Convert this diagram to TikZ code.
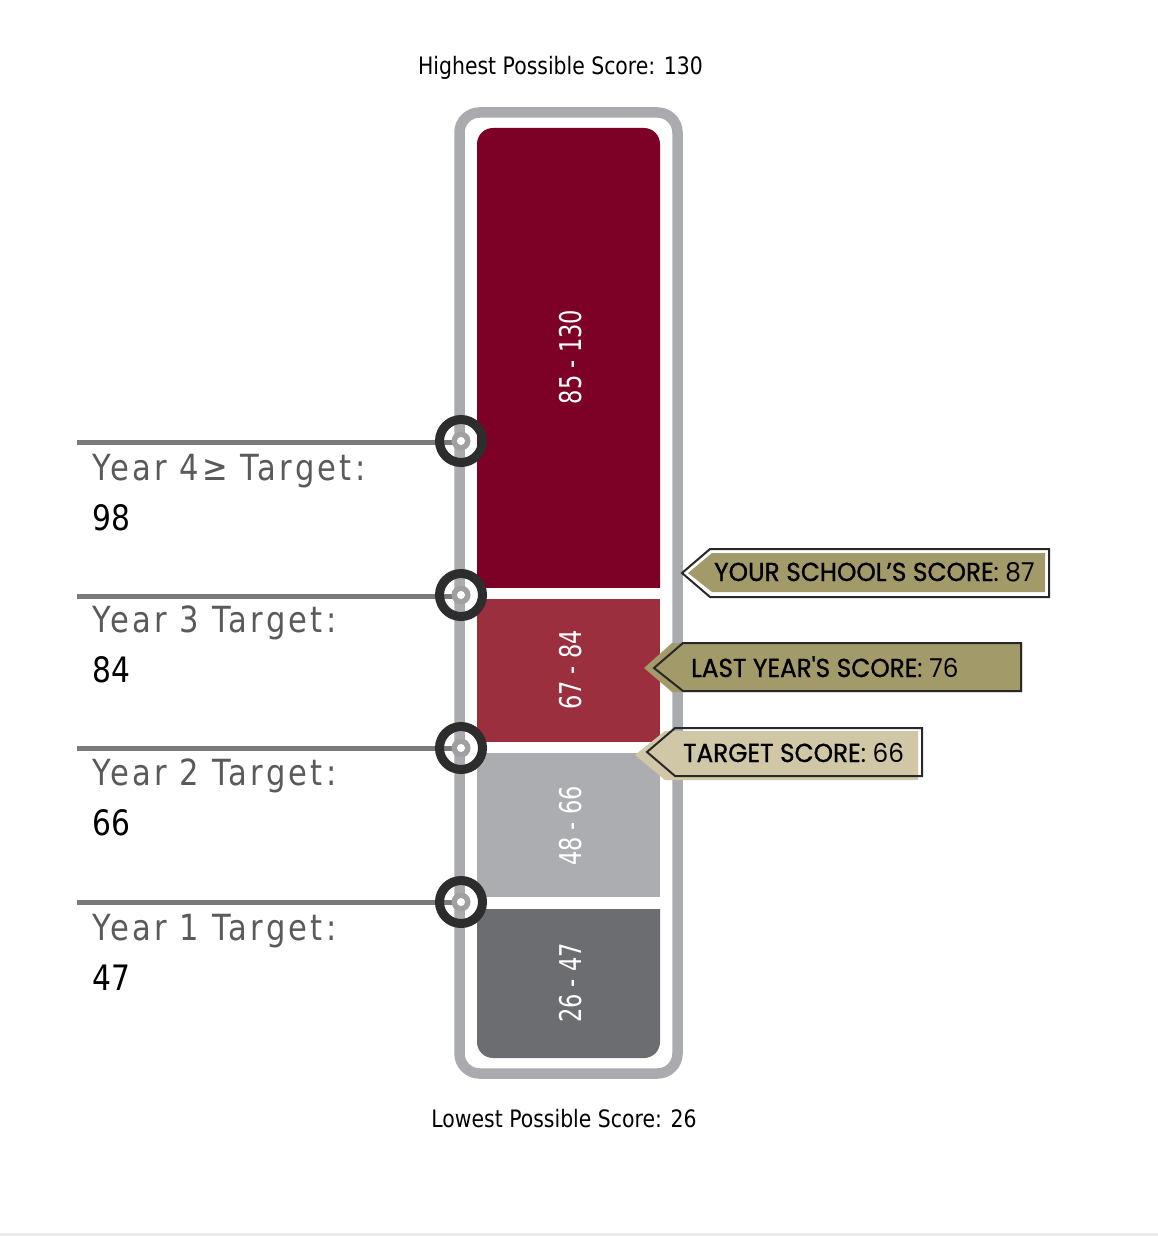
\documentclass[tikz,border=0pt]{standalone}
\usepackage{fontspec}
\setmainfont{DejaVu Sans}[FakeStretch=0.85]
\newfontfamily\yearfont{DejaVu Sans}[FakeStretch=0.85,LetterSpace=9]
\newfontfamily\barfont{DejaVu Sans}[FakeStretch=0.75]
\newfontfamily\tagfont{Poppins}[FakeStretch=0.95]
\newfontfamily\tagfontb{Poppins}[FakeStretch=0.95,FakeBold=1]
\definecolor{framegray}{RGB}{170,171,175}
\definecolor{bardark}{RGB}{125,0,38}
\definecolor{barred}{RGB}{155,47,62}
\definecolor{barlight}{RGB}{172,173,177}
\definecolor{bargray}{RGB}{108,109,113}
\definecolor{ringdark}{RGB}{45,45,45}
\definecolor{dotgray}{RGB}{160,160,160}
\definecolor{linegray}{RGB}{122,122,122}
\definecolor{labelgray}{RGB}{90,90,90}
\definecolor{khaki}{RGB}{163,154,106}
\definecolor{lightkhaki}{RGB}{207,199,166}
\definecolor{tagline}{RGB}{40,40,40}
\begin{document}
\begin{tikzpicture}[x=1pt,y=-1pt,
  ring/.style={circle,draw=ringdark,line width=9pt,minimum size=43pt,inner sep=0pt},
  dotouter/.style={circle,fill=dotgray,minimum size=19pt,inner sep=0pt},
  dotinner/.style={circle,fill=white,minimum size=8pt,inner sep=0pt},
  hline/.style={line width=5pt,draw=linegray},
  yearlbl/.style={anchor=base west,text=labelgray,font=\yearfont\fontsize{36}{40}\selectfont,inner sep=0pt},
  yearnum/.style={anchor=base west,text=black,font=\fontsize{35}{40}\selectfont,inner sep=0pt},
  barlbl/.style={rotate=90,text=white,font=\barfont\fontsize{30}{34}\selectfont,inner sep=0pt},
  tagtext/.style={anchor=base west,inner sep=0pt,font=\tagfont\fontsize{26}{30}\selectfont,text=black},
  titletext/.style={anchor=base,inner sep=0pt,font=\fontsize{24}{28}\selectfont,text=black},
  tagoutline/.style={draw=tagline,line width=2pt,line join=miter}
]
\useasboundingbox (0,0) rectangle (1158,1236);
\fill[white] (0,0) rectangle (1158,1236);
\fill[black!8] (0,1233) rectangle (1158,1236);

% titles
\node[titletext] (hi) at (560.5,75) {Highest Possible Score: 130};
\node[titletext] (lo) at (564,1127) {Lowest Possible Score: 26};

% frame
\draw[line width=10.5pt,draw=framegray,rounded corners=20pt] (459.5,112.5) rectangle (677.5,1073.5);

% bars
\begin{scope}
  \clip (477,128) rectangle (660,587);
  \fill[bardark,rounded corners=16pt] (477,128) rectangle (660,640);
\end{scope}
\fill[barred] (477,599) rectangle (660,742);
\fill[barlight] (477,753) rectangle (660,897);
\begin{scope}
  \clip (477,909) rectangle (660,1058);
  \fill[bargray,rounded corners=16pt] (477,860) rectangle (660,1058);
\end{scope}

\node[barlbl] (b4) at (571,357) {85 - 130};
\node[barlbl] (b3) at (571,670) {67 - 84};
\node[barlbl] (b2) at (571,826) {48 - 66};
\node[barlbl] (b1) at (571,983) {26 - 47};

% target lines and markers
\coordinate (c4) at (461,441);
\coordinate (c3) at (461,595);
\coordinate (c2) at (461,748);
\coordinate (c1) at (461,902);
\coordinate (l4) at (77,442);
\coordinate (l3) at (77,596);
\coordinate (l2) at (77,748);
\coordinate (l1) at (77,902);
\foreach \i in {1,2,3,4}{
  \draw[hline] (l\i) -- (l\i -| c\i);
  \node[ring] (r\i) at (c\i) {};
  \node[dotouter] (d\i) at (c\i) {};
  \node[dotinner] (e\i) at (c\i) {};
}

% year labels
\node[yearlbl] (y4) at (92,480) {Year 4≥ Target:};
\node[yearnum] (n4) at (92,530) {98};
\node[yearlbl] (y3) at (92,632) {Year 3 Target:};
\node[yearnum] (n3) at (92,682) {84};
\node[yearlbl] (y2) at (92,785) {Year 2 Target:};
\node[yearnum] (n2) at (92,835) {66};
\node[yearlbl] (y1) at (92,940) {Year 1 Target:};
\node[yearnum] (n1) at (92,990) {47};

% tag 1 : your school's score
\draw[tagoutline,fill=white] (682,573) -- (710,549) -- (1049,549) -- (1049,597) -- (710,597) -- cycle;
\fill[khaki] (688,573) -- (712,553) -- (1045,553) -- (1045,592) -- (712,592) -- cycle;
\node[tagtext] (t1) at (714,581) {{\tagfontb YOUR SCHOOL’S SCORE}: 87};

% tag 2 : last year's score
\fill[khaki] (644,668) -- (672,643) -- (1022,643) -- (1022,692) -- (672,692) -- cycle;
\draw[tagoutline] (654,668) -- (683,643) -- (1021,643) -- (1021,691) -- (683,691) -- cycle;
\node[tagtext] (t2) at (691,677) {{\tagfontb LAST YEAR'S SCORE}: 76};

% tag 3 : target score
\fill[lightkhaki] (635,755) -- (665,731) -- (918,731) -- (918,780) -- (665,780) -- cycle;
\draw[tagoutline] (647,752) -- (675,728) -- (922,728) -- (922,776) -- (675,776) -- cycle;
\node[tagtext] (t3) at (683,762) {{\tagfontb TARGET SCORE}: 66};
\end{tikzpicture}
\end{document}
